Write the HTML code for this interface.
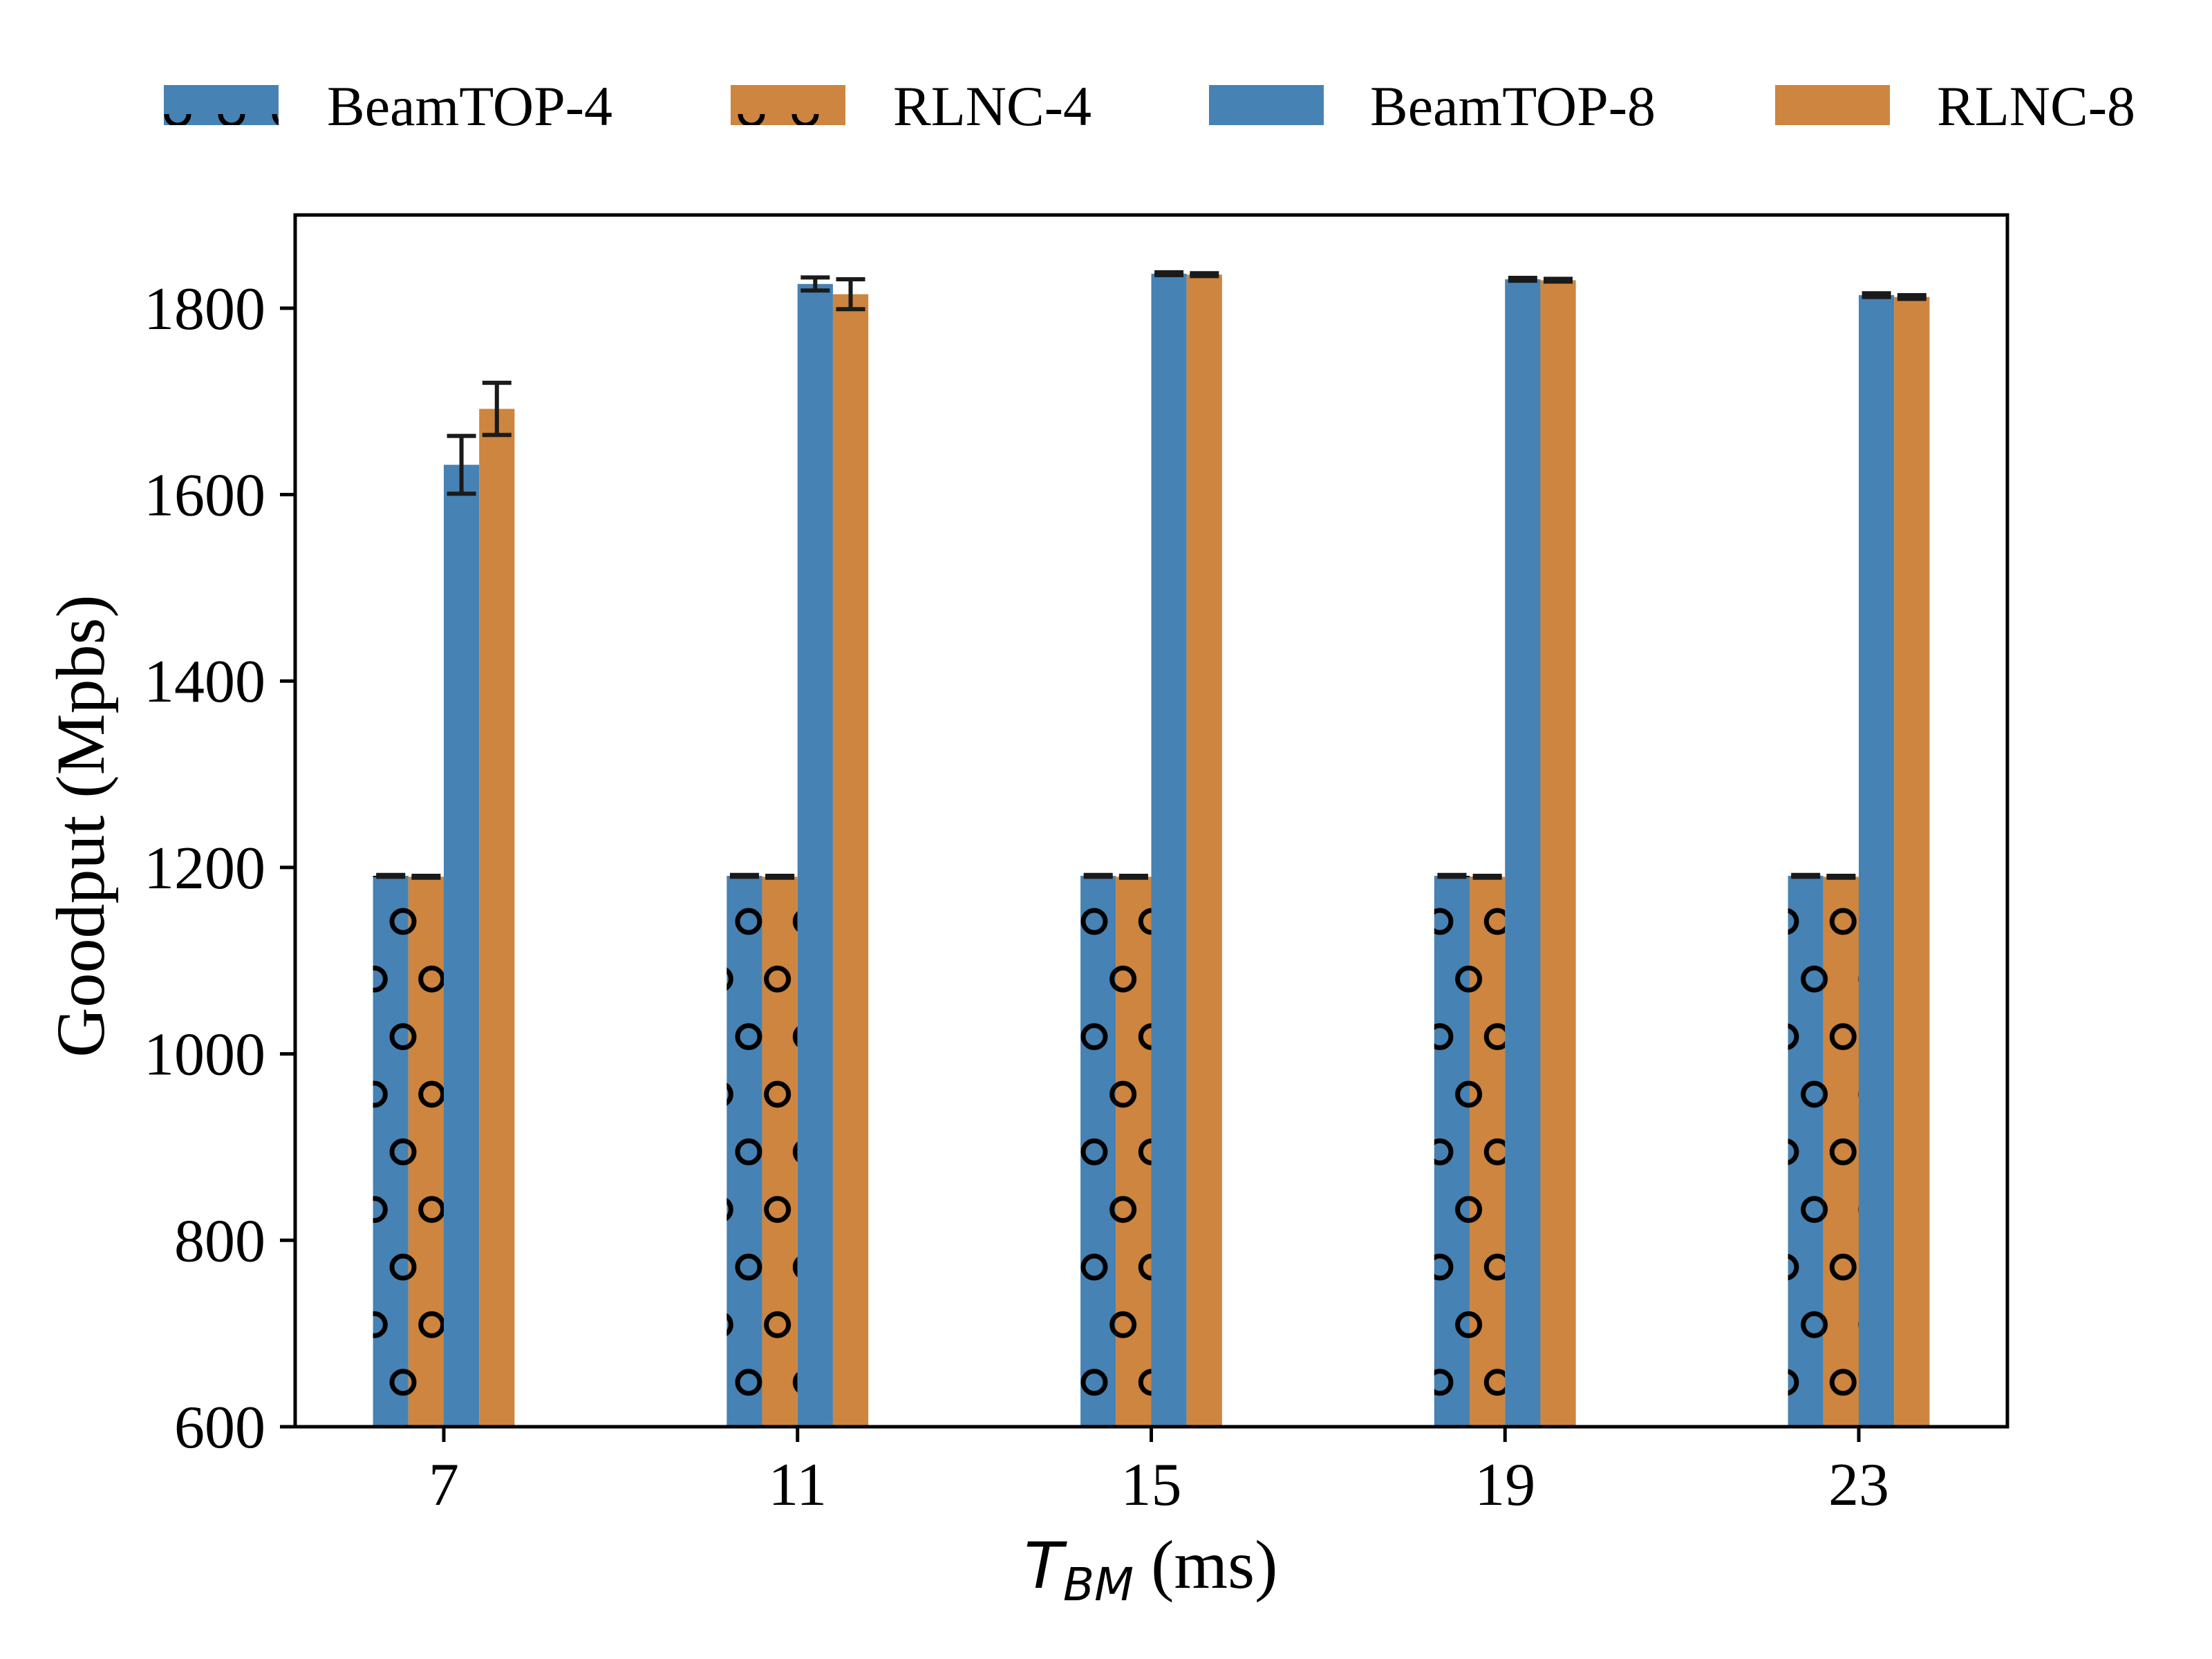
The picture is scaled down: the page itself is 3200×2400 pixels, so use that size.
<!DOCTYPE html>
<html><head><meta charset="utf-8"><style>
html,body{margin:0;padding:0;background:#fff;}
svg{display:block;}
text{font-family:"Liberation Serif","Times New Roman",serif;fill:#000;}
</style></head><body>
<svg id="chart" xmlns="http://www.w3.org/2000/svg" width="3200" height="2400" viewBox="0 0 3200 2400">
<defs>
<pattern id="hatch" patternUnits="userSpaceOnUse" x="1083" y="1333" width="83.33" height="166.67">
<circle cx="0" cy="0" r="16" fill="none" stroke="#000" stroke-width="7"/>
<circle cx="83.33" cy="0" r="16" fill="none" stroke="#000" stroke-width="7"/>
<circle cx="0" cy="166.67" r="16" fill="none" stroke="#000" stroke-width="7"/>
<circle cx="83.33" cy="166.67" r="16" fill="none" stroke="#000" stroke-width="7"/>
<circle cx="41.67" cy="83.33" r="16" fill="none" stroke="#000" stroke-width="7"/>
</pattern>
<pattern id="hatchLeg0" patternUnits="userSpaceOnUse" x="257" y="165" width="78" height="300">
<circle cx="0" cy="0" r="16" fill="none" stroke="#000" stroke-width="7"/>
<circle cx="78" cy="0" r="16" fill="none" stroke="#000" stroke-width="7"/>
</pattern>
<pattern id="hatchLeg1" patternUnits="userSpaceOnUse" x="1087" y="165" width="78" height="300">
<circle cx="0" cy="0" r="16" fill="none" stroke="#000" stroke-width="7"/>
<circle cx="78" cy="0" r="16" fill="none" stroke="#000" stroke-width="7"/>
</pattern>
</defs>
<g id="legend"></g>
<g id="bars"></g>
<g id="errs"></g>
<g id="axes"></g>
<text transform="translate(150,1195) rotate(-90)" text-anchor="middle" font-size="100">Goodput (Mpbs)</text>
<text x="1665" y="2297" text-anchor="middle" font-size="100"><tspan style="font-family:'DejaVu Sans',sans-serif;font-style:italic" font-size="92">T</tspan><tspan style="font-family:'DejaVu Sans',sans-serif;font-style:italic" font-size="66" dy="18">BM</tspan><tspan dy="-18"> (ms)</tspan></text>
</svg>
<script>
const categories = ["7","11","15","19","23"];
const seriesNames = ["BeamTOP-4","RLNC-4","BeamTOP-8","RLNC-8"];
const beamtop4 = [1191,1191,1191,1191,1191];
const rlnc4 = [1190,1190,1190,1190,1190];
const beamtop8 = [1632,1826,1837,1831,1814];
const rlnc8 = [1692,1815,1836,1830,1812];
const beamtop4Err = [1,1,1,1,1];
const rlnc4Err = [1,1,1,1,1];
const beamtop8Err = [31,7,1.5,1.5,2];
const rlnc8Err = [28,16,1.5,1.5,2];
const yTicks = [600,800,1000,1200,1400,1600,1800];

const NS = "http://www.w3.org/2000/svg";
const L = 427, R = 2904, T = 311, B = 2064;
const yMin = 600, yMax = 1900;
const y = v => B - (v - yMin) / (yMax - yMin) * (B - T);
const x0 = 642, step = 511.75;
const x = i => x0 + i * step;
const bw = 51.2;
const colors = ["#4682B4","#CD853F","#4682B4","#CD853F"];
const vals = [beamtop4, rlnc4, beamtop8, rlnc8];
const errs = [beamtop4Err, rlnc4Err, beamtop8Err, rlnc8Err];
const offs = [-2,-1,0,1];
const keys = ["beamtop4","rlnc4","beamtop8","rlnc8"];

function mk(tag, attrs, parent){
  const e = document.createElementNS(NS, tag);
  for (const k in attrs) e.setAttribute(k, attrs[k]);
  parent.appendChild(e);
  return e;
}
const gb = document.getElementById("bars");
const ge = document.getElementById("errs");
const ga = document.getElementById("axes");
const gl = document.getElementById("legend");

categories.forEach((c, i) => {
  vals.forEach((arr, s) => {
    const left = x(i) + offs[s] * bw;
    const top = y(arr[i]);
    const r = mk("rect", {x:left, y:top, width:bw, height:B-top, fill:colors[s]}, gb);
    
    
    if (s < 2) {
      const h = mk("rect", {x:left, y:top, width:bw, height:B-top, fill:"url(#hatch)"}, gb);
      
      
    }
    const cx = left + bw/2, e = errs[s][i];
    const g = mk("g", {stroke:"#1a1a1a", "stroke-width":6}, ge);
    
    
    mk("line", {x1:cx, x2:cx, y1:y(arr[i]+e), y2:y(arr[i]-e)}, g);
    mk("line", {x1:cx-21, x2:cx+21, y1:y(arr[i]+e), y2:y(arr[i]+e)}, g);
    mk("line", {x1:cx-21, x2:cx+21, y1:y(arr[i]-e), y2:y(arr[i]-e)}, g);
  });
  const tk = mk("line", {x1:x(i), x2:x(i), y1:B, y2:B+22, stroke:"#000", "stroke-width":5}, ga);
  
  
  const tl = mk("text", {x:x(i), y:2177, "text-anchor":"middle", "font-size":88}, ga);
  tl.textContent = c;
  
  
});

yTicks.forEach(v => {
  const tk = mk("line", {x1:L-22, x2:L, y1:y(v), y2:y(v), stroke:"#000", "stroke-width":5}, ga);
  
  
  const tl = mk("text", {x:384, y:y(v)+30, "text-anchor":"end", "font-size":88}, ga);
  tl.textContent = v;
  
  
});
const frame = mk("rect", {x:L, y:T, width:R-L, height:B-T, fill:"none", stroke:"#000", "stroke-width":5}, ga);



const legX = [237, 1057, 1749, 2568];
const legTX = [473, 1292, 1982, 2802];
seriesNames.forEach((n, s) => {
  const g = mk("g", {}, gl);
  
  
  mk("rect", {x:legX[s], y:123, width:166, height:58, fill:colors[s]}, g);
  if (s < 2) {
    mk("rect", {x:legX[s], y:123, width:166, height:58, fill:"url(#hatchLeg" + s + ")"}, g);
  }
  const t = mk("text", {x:legTX[s], y:181, "font-size":82}, g);
  t.textContent = n;
});
</script>
</body></html>
